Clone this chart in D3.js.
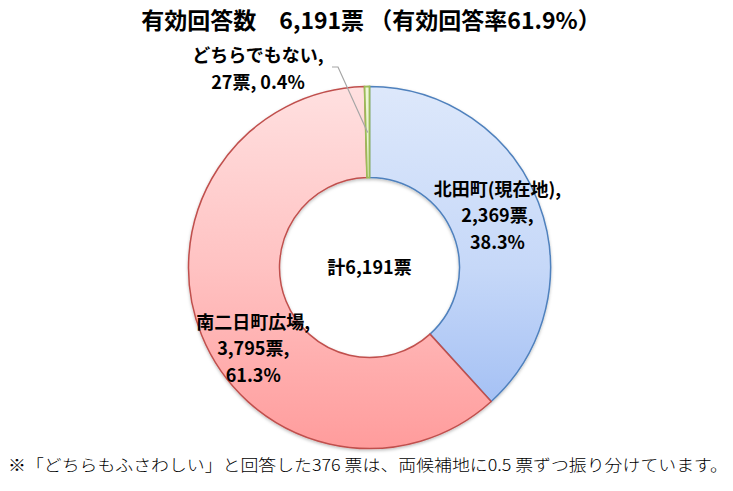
<!DOCTYPE html>
<html><head><meta charset="utf-8">
<script src="https://cdn.jsdelivr.net/npm/d3@7"></script>
<style>body{margin:0;background:#fff}svg{display:block}</style>
</head><body>
<svg id="c" width="733" height="491"></svg>
<script>
const categories = ["北田町(現在地)", "南二日町広場", "どちらでもない"];
const votes = [2369, 3795, 27];
const votesText = ["2,369票", "3,795票", "27票"];
const percents = ["38.3%", "61.3%", "0.4%"];
const titleText = "有効回答数　6,191票 （有効回答率61.9%）";
const centerText = "計6,191票";
const noteText = "※「どちらもふさわしい」と回答した376 票は、両候補地に0.5 票ずつ振り分けています。";

const svg = d3.select("#c");
const cx = 369.5, cy = 267.5, R = 181, r = 90;
const F = "'Noto Sans CJK JP', 'Noto Sans', sans-serif";

const defs = svg.append("defs");
const grads = [
  {id:"gB", stops:["#dde8fb", "#c6d8f8", "#9ab9f3"]},
  {id:"gR", stops:["#ffe0e0", "#ffc2c2", "#ff9c9c"]},
  {id:"gG", stops:["#eef6d8", "#e2efbc", "#d2e59c"]}
];
grads.forEach(g => {
  const lg = defs.append("linearGradient").attr("id", g.id)
    .attr("gradientUnits","userSpaceOnUse").attr("x1",0).attr("y1",-R).attr("x2",0).attr("y2",R);
  g.stops.forEach((c, k) => lg.append("stop").attr("offset", k/(g.stops.length-1)).attr("stop-color", c));
});
const strokes = ["#4f81bd", "#c0504d", "#9bbb59"];

const filt = defs.append("filter").attr("id","sh").attr("x","-10%").attr("y","-10%").attr("width","120%").attr("height","120%");
filt.append("feDropShadow").attr("dx",0).attr("dy",1.5).attr("stdDeviation",1.5).attr("flood-color","#000").attr("flood-opacity",0.25);

const pie = d3.pie().sort(null).value(d => d);
const arcs = pie(votes);
const arc = d3.arc().innerRadius(r).outerRadius(R);

const g = svg.append("g").attr("transform", `translate(${cx},${cy})`).attr("filter","url(#sh)");
g.selectAll("path").data(arcs).join("path")
  .attr("d", arc)
  .attr("fill", (d,i) => `url(#${grads[i].id})`)
  .attr("stroke", (d,i) => strokes[i])
  .attr("stroke-width", (d,i) => i===2 ? 1.8 : 1.5);

// title
svg.append("text").attr("x", 371).attr("y", 29).attr("text-anchor","middle")
  .attr("font-family", F).attr("font-weight","bold").attr("font-size", 23).attr("fill","#000")
  .text(titleText);

// center
svg.append("text").attr("x", cx).attr("y", cy+6).attr("text-anchor","middle")
  .attr("font-family", F).attr("font-weight","bold").attr("font-size", 18).attr("fill","#000")
  .text(centerText);

// slice labels
const labelArc = d3.arc().innerRadius(135).outerRadius(135);
const offsets = [[2, -23], [9, 11]];
[0,1].forEach(i => {
  const c = labelArc.centroid(arcs[i]);
  const x = cx + c[0] + offsets[i][0], y = cy + c[1] + offsets[i][1];
  const t = svg.append("text").attr("text-anchor","middle")
    .attr("font-family", F).attr("font-weight","bold").attr("font-size", 18).attr("fill","#000");
  [categories[i] + ",", votesText[i] + ",", percents[i]].forEach((s, k) => {
    t.append("tspan").attr("x", x).attr("y", y + k*26.5).text(s);
  });
});

// small slice label with leader
const ga = arcs[2];
const mid = (ga.startAngle + ga.endAngle)/2;
const px = cx + Math.sin(mid)*(R-46), py = cy - Math.cos(mid)*(R-46);
svg.append("polyline")
  .attr("points", `332,67 338,67 ${px},${py}`)
  .attr("fill","none").attr("stroke","#a6a6a6").attr("stroke-width",1.2);
const t3 = svg.append("text").attr("text-anchor","middle")
  .attr("font-family", F).attr("font-weight","bold").attr("font-size", 18).attr("fill","#000");
t3.append("tspan").attr("x", 258).attr("y", 62).text(categories[2] + ",");
t3.append("tspan").attr("x", 258).attr("y", 89).text(votesText[2] + ", " + percents[2]);

// footnote
svg.append("text").attr("x", 8).attr("y", 471)
  .attr("font-family", F).attr("font-weight", 300).attr("font-size", 16).attr("fill","#000")
  .attr("textLength", 720).attr("lengthAdjust","spacingAndGlyphs")
  .text(noteText);
</script>
</body></html>
